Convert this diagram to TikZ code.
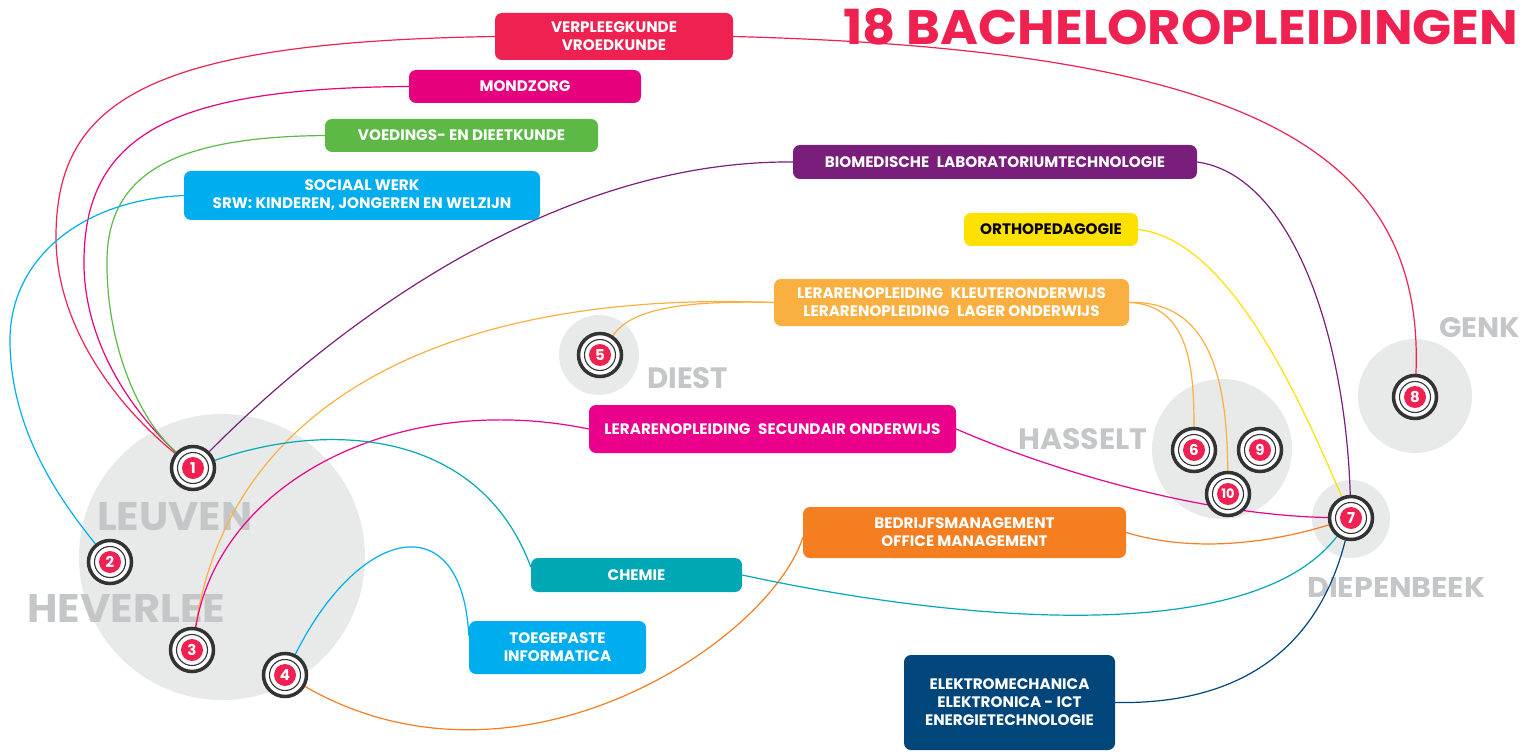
\documentclass[tikz,border=0pt]{standalone}
\usepackage{fontspec}
\usepackage{graphicx}
\setmainfont{Poppins}
\usetikzlibrary{calc}
\definecolor{crim}{HTML}{EE2151}
\definecolor{mag}{HTML}{E6007E}
\definecolor{grn}{HTML}{5CB946}
\definecolor{lblue}{HTML}{00AEEF}
\definecolor{purp}{HTML}{7A1E7C}
\definecolor{yel}{HTML}{FFE100}
\definecolor{lorange}{HTML}{FAB041}
\definecolor{smag}{HTML}{EB008B}
\definecolor{orng}{HTML}{F47E20}
\definecolor{teal}{HTML}{00A8B5}
\definecolor{dblue}{HTML}{00467A}
\definecolor{cbg}{HTML}{E8E9E9}
\definecolor{cgray}{HTML}{C5C6C8}
\definecolor{ring}{HTML}{333333}
\pgfdeclarelayer{cityl}
\pgfdeclarelayer{linel}
\pgfsetlayers{cityl,linel,main}
\tikzset{
  box/.style={rounded corners=7pt, text=white, font=\bfseries\fontsize{15.2}{18}\selectfont, align=center, inner sep=0pt},
  mk/.style={circle, draw=ring, line width=3.5pt, fill=white, minimum size=43pt, inner sep=0pt, text=white,
    font=\bfseries\fontsize{15}{15}\selectfont,
    path picture={\draw[ring, line width=1.1pt] (path picture bounding box.center) circle (15.5pt);
                  \fill[crim] (path picture bounding box.center) circle (11pt);}},
  conn/.style={line width=1.2pt},
  city/.style={text=cgray, inner sep=0pt, anchor=north west},
  cityc/.style={fill=cbg, draw=none}
}
\begin{document}
\begin{tikzpicture}[x=1pt,y=-1pt]
\useasboundingbox (0,0) rectangle (1526,754);
% title
\node[anchor=north west, inner sep=0pt, text=crim] (title) at (843,8) {\resizebox{675pt}{36pt}{\bfseries 18 BACHELOROPLEIDINGEN}};
% city discs and labels
\begin{pgfonlayer}{cityl}
\fill[cityc] (222,557) circle (143);
\fill[cityc] (599,355) circle (40);
\fill[cityc] (1222,449) circle (70);
\fill[cityc] (1415,396) circle (57);
\fill[cityc] (1351,519) circle (39);
\node[city] (leuven) at (97,502) {\resizebox{155pt}{28pt}{\bfseries LEUVEN}};
\node[city] (heverlee) at (27,594) {\resizebox{198pt}{28pt}{\bfseries HEVERLEE}};
\node[city] (diest) at (647,367) {\resizebox{81pt}{21pt}{\bfseries DIEST}};
\node[city] (hasselt) at (1018,428) {\resizebox{129pt}{21pt}{\bfseries HASSELT}};
\node[city] (genk) at (1439,317) {\resizebox{81pt}{20pt}{\bfseries GENK}};
\node[city] (diepenbeek) at (1307,577) {\resizebox{178pt}{20pt}{\bfseries DIEPENBEEK}};
\end{pgfonlayer}
% boxes
\node[box, fill=crim, minimum width=238pt, minimum height=47pt] (verp) at (614,36.5) {VERPLEEGKUNDE\\VROEDKUNDE};
\node[box, fill=mag, minimum width=232pt, minimum height=33pt] (mond) at (525,86.5) {MONDZORG};
\node[box, fill=grn, minimum width=273pt, minimum height=33pt] (voed) at (461.5,135.5) {VOEDINGS- EN DIEETKUNDE};
\node[box, fill=lblue, minimum width=356pt, minimum height=49pt] (soc) at (362,195.5) {SOCIAAL WERK\\SRW: KINDEREN, JONGEREN EN WELZIJN};
\node[box, fill=purp, minimum width=404pt, minimum height=34pt] (bio) at (995,162) {BIOMEDISCHE\hspace{0.5em}LABORATORIUMTECHNOLOGIE};
\node[box, fill=yel, text=black, minimum width=174pt, minimum height=33pt] (ortho) at (1051,229.5) {ORTHOPEDAGOGIE};
\node[box, fill=lorange, minimum width=355pt, minimum height=47pt] (kleut) at (951.5,302.5) {LERARENOPLEIDING\hspace{0.5em}KLEUTERONDERWIJS\\LERARENOPLEIDING\hspace{0.5em}LAGER ONDERWIJS};
\node[box, fill=smag, minimum width=367pt, minimum height=48pt] (sec) at (772.5,429) {LERARENOPLEIDING\hspace{0.5em}SECUNDAIR ONDERWIJS};
\node[box, fill=orng, minimum width=323pt, minimum height=51pt] (bedr) at (964.5,532.5) {BEDRIJFSMANAGEMENT\\OFFICE MANAGEMENT};
\node[box, fill=teal, minimum width=211pt, minimum height=34pt] (chem) at (636.5,575) {CHEMIE};
\node[box, fill=lblue, minimum width=177pt, minimum height=53pt] (inf) at (557.5,647.5) {TOEGEPASTE\\INFORMATICA};
\node[box, fill=dblue, minimum width=211pt, minimum height=95pt] (elek) at (1009.5,702.5) {ELEKTROMECHANICA\\ELEKTRONICA - ICT\\ENERGIETECHNOLOGIE};
% markers
\node[mk] (m1) at (193,468) {1};
\node[mk] (m2) at (110,562) {2};
\node[mk] (m3) at (192,650) {3};
\node[mk] (m4) at (285,675) {4};
\node[mk] (m5) at (600,355) {5};
\node[mk] (m6) at (1194,450) {6};
\node[mk] (m9) at (1260,450) {9};
\node[mk, font=\bfseries\fontsize{13}{13}\selectfont] (m10) at (1228,494) {10};
\node[mk] (m7) at (1351,518) {7};
\node[mk] (m8) at (1415,397) {8};
% connectors
\begin{pgfonlayer}{linel}
\draw[conn, crim] (m1) .. controls (110,400) and (55,320) .. (56,235) .. controls (57,100) and (150,42) .. (verp.west);
\draw[conn, mag] (m1) .. controls (120,400) and (83,330) .. (84,260) .. controls (85,130) and (180,88) .. (mond.west);
\draw[conn, grn] (m1) .. controls (130,410) and (106,330) .. (107,260) .. controls (108,170) and (180,137) .. (voed.west);
\draw[conn, lblue] (soc.west) .. controls (80,200) and (10,260) .. (10,340) .. controls (10,430) and (60,500) .. (m2);
\draw[conn, purp] (m1) .. controls (330,330) and (550,160) .. (bio.west);
\draw[conn, purp] (bio.east) .. controls (1290,175) and (1345,330) .. (m7);
\draw[conn, crim] (verp.east) .. controls (1250,50) and (1425,150) .. (m8);
\draw[conn, yel] (ortho.east) .. controls (1230,240) and (1300,400) .. (m7);
\draw[conn, lorange] (kleut.west) .. controls (680,300) and (630,310) .. (m5);
\draw[conn, lorange] (kleut.west) .. controls (450,290) and (230,400) .. (m3);
\draw[conn, lorange] (kleut.east) .. controls (1190,305) and (1194,370) .. (m6);
\draw[conn, lorange] (kleut.east) .. controls (1215,300) and (1227,390) .. (m10);
\draw[conn, smag] (sec.west) .. controls (400,390) and (220,480) .. (m3);
\draw[conn, smag] (sec.east) .. controls (1050,470) and (1200,515) .. (m7);
\draw[conn, orng] ($(bedr.west)+(0,5)$) .. controls (770,640) and (520,810) .. (m4);
\draw[conn, orng] (bedr.east) .. controls (1200,555) and (1280,540) .. (m7);
\draw[conn, teal] (m1) .. controls (330,420) and (480,430) .. ($(chem.west)+(0,-8)$);
\draw[conn, teal] (chem.east) .. controls (950,620) and (1250,650) .. (m7);
\draw[conn, lblue] (m4) .. controls (360,525) and (462,505) .. ($(inf.west)+(0,-12)$);
\draw[conn, dblue] (elek.east) .. controls (1250,705) and (1320,640) .. (m7);
\end{pgfonlayer}
\end{tikzpicture}
\end{document}
